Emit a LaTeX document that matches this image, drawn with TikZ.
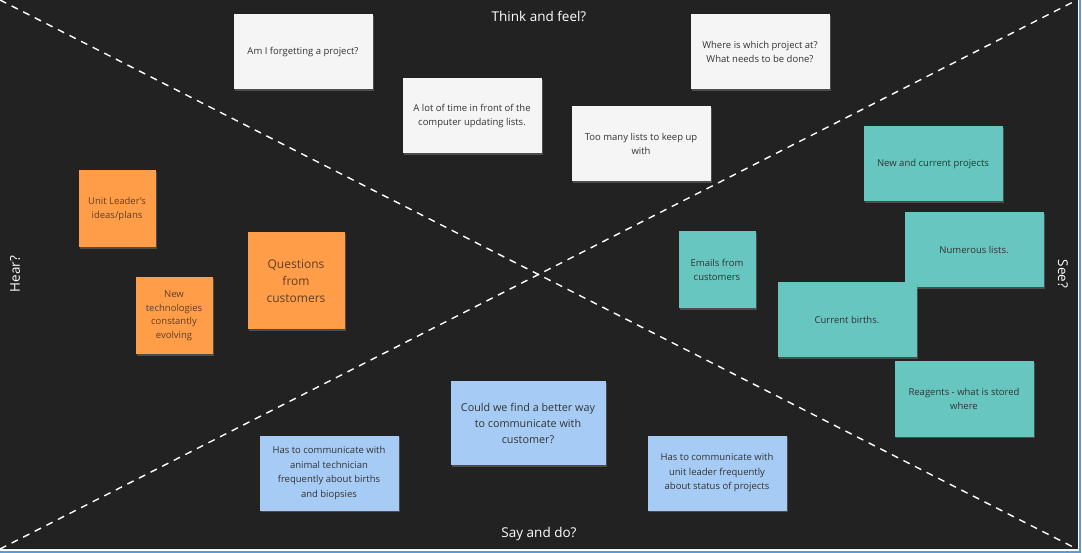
\documentclass[tikz,border=0pt]{standalone}
\usepackage{fontspec}
\setmainfont{Open Sans}
\usepackage{xcolor}
\usepackage{tikz}
\usetikzlibrary{shadows}
\usetikzlibrary{positioning}

\definecolor{board}{HTML}{222222}
\definecolor{frameblue}{HTML}{5B9BD5}
\definecolor{notewhite}{HTML}{F5F5F5}
\definecolor{noteorange}{HTML}{FF9D48}
\definecolor{noteteal}{HTML}{67C6C0}
\definecolor{noteblue}{HTML}{A6CCF5}
\definecolor{notetext}{HTML}{333333}
\definecolor{orangetext}{HTML}{5E3F28}

\tikzset{
 note/.style={rectangle, minimum width=139pt, minimum height=75pt, inner sep=2pt,
  align=center, text=notetext, font=\fontsize{9.5}{14.5}\selectfont,
  drop shadow={opacity=0.45, shadow xshift=1pt, shadow yshift=-1.5pt}},
 whitenote/.style={note, fill=notewhite},
 tealnote/.style={note, fill=noteteal},
 bluenote/.style={note, fill=noteblue},
 orangenote/.style={note, fill=noteorange, text=orangetext, minimum width=77pt, minimum height=77pt,
  font=\fontsize{9.5}{13.5}\selectfont},
 heading/.style={text=white, font=\fontsize{13.5}{16}\selectfont},
 divider/.style={draw, white, dashed, dash pattern=on 7pt off 6pt, line width=1.4pt}
}

\begin{document}
\begin{tikzpicture}[x=1pt, y=-1pt]
 \useasboundingbox (0,0) rectangle (1082,553);
 %board
 \fill[board] (0,0) rectangle (1078,549);
 \path[draw, frameblue, line width=2pt] (1080,0) -- (1080,552) -- (0,552);

 %corners
 \coordinate (tl) at (0,0);
 \coordinate (tr) at (1077,0);
 \coordinate (bl) at (0,549);
 \coordinate (br) at (1077,549);
 \path[divider] (tl) -- (br);
 \path[divider] (bl) -- (tr);

 %headings
 \node[heading] (think) at (539,16) {Think and feel?};
 \node[heading] (say) at (539,534) {Say and do?};
 \node[heading, rotate=90] (hear) at (15,274) {Hear?};
 \node[heading, rotate=-90] (see) at (1063,274) {See?};

 %think and feel
 \node[whitenote] (forget) at (303,52) {Am I forgetting a project?};
 \node[whitenote] (lottime) at (472,116) {A lot of time in front of the\\computer updating lists.};
 \node[whitenote] (where) at (760,52) {Where is which project at?\\What needs to be done?};
 \node[whitenote] (toomany) at (641,144) {Too many lists to keep up\\with};

 %hear
 \node[orangenote] (leader) at (117,209) {Unit Leader's\\ideas/plans};
 \node[orangenote] (newtech) at (174,316) {New\\technologies\\constantly\\evolving};
 \node[orangenote, minimum width=97pt, minimum height=97pt,
  font=\fontsize{12}{17}\selectfont] (questions) at (296,281) {Questions\\from\\customers};

 %see
 \node[tealnote, minimum width=77pt, minimum height=77pt] (emails) at (717,270) {Emails from\\customers};
 \node[tealnote] (projects) at (933,164) {New and current projects};
 \node[tealnote] (lists) at (974,250) {Numerous lists.};
 \node[tealnote] (births) at (847,320) {Current births.};
 \node[tealnote] (reagents) at (964,399) {Reagents - what is stored\\where};

 %say and do
 \node[bluenote, minimum width=155pt, minimum height=84pt,
  font=\fontsize{10.8}{16}\selectfont] (better) at (528,423) {Could we find a better way\\to communicate with\\customer?};
 \node[bluenote] (technician) at (329,473) {Has to communicate with\\animal technician\\frequently about births\\and biopsies};
 \node[bluenote] (status) at (717,473) {Has to communicate with\\unit leader frequently\\about status of projects};
\end{tikzpicture}
\end{document}
